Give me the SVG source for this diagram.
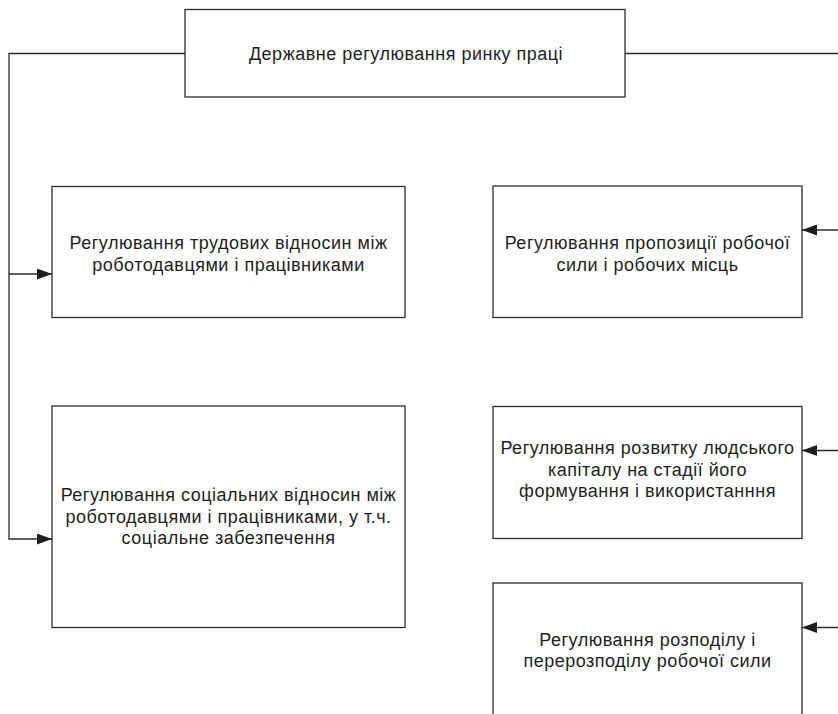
<svg xmlns="http://www.w3.org/2000/svg" width="838" height="714" viewBox="0 0 838 714">
<style>
.box{fill:#fff;stroke:#2b2b2b;stroke-width:1.3}
.lbl{font-family:"Liberation Sans",Arial,sans-serif;font-size:18px;letter-spacing:0.5px;fill:#1e1e1e;text-anchor:middle}
.con{fill:none;stroke:#2b2b2b;stroke-width:1.3}
</style>
<defs>
<marker id="ah" viewBox="0 0 15 11" refX="15" refY="5.5" markerWidth="15" markerHeight="11" markerUnits="userSpaceOnUse" orient="auto">
<path d="M0,0 L15,5.5 L0,11 Z" fill="#1e1e1e"/>
</marker>
</defs>
<rect width="838" height="714" fill="#fff"/>
<g id="connectors">
<polyline class="con" points="185,53.5 9,53.5 9,539 52,539" marker-end="url(#ah)"/>
<line class="con" x1="9" y1="274" x2="52" y2="274" marker-end="url(#ah)"/>
<line class="con" x1="625" y1="53.5" x2="838" y2="53.5"/>
<line class="con" x1="838" y1="230" x2="802" y2="230" marker-end="url(#ah)"/>
<line class="con" x1="838" y1="450.5" x2="802" y2="450.5" marker-end="url(#ah)"/>
<line class="con" x1="838" y1="627.5" x2="802" y2="627.5" marker-end="url(#ah)"/>
</g>
<g id="n0">
<rect class="box" x="185" y="9.5" width="440" height="87.5"/>
<text class="lbl" x="406" y="60">Державне регулювання ринку праці</text>
</g>
<g id="n1">
<rect class="box" x="52" y="186.5" width="353" height="131"/>
<text class="lbl" x="228.5" y="249">Регулювання трудових відносин між</text>
<text class="lbl" x="228.5" y="271">роботодавцями і працівниками</text>
</g>
<g id="n2">
<rect class="box" x="52" y="406" width="353" height="221.5"/>
<text class="lbl" x="228.5" y="501">Регулювання соціальних відносин між</text>
<text class="lbl" x="228.5" y="522.5">роботодавцями і працівниками, у т.ч.</text>
<text class="lbl" x="228.5" y="544">соціальне забезпечення</text>
</g>
<g id="n3">
<rect class="box" x="493" y="186" width="309" height="131.5"/>
<text class="lbl" x="647.5" y="249">Регулювання пропозиції робочої</text>
<text class="lbl" x="647.5" y="271">сили і робочих місць</text>
</g>
<g id="n4">
<rect class="box" x="493" y="406.5" width="309" height="132"/>
<text class="lbl" x="647.5" y="454">Регулювання розвитку людського</text>
<text class="lbl" x="647.5" y="475.5">капіталу на стадії його</text>
<text class="lbl" x="647.5" y="497">формування і використанння</text>
</g>
<g id="n5">
<rect class="box" x="493" y="583" width="309" height="150"/>
<text class="lbl" x="647.5" y="645.5">Регулювання розподілу і</text>
<text class="lbl" x="647.5" y="666.5">перерозподілу робочої сили</text>
</g>
</svg>
